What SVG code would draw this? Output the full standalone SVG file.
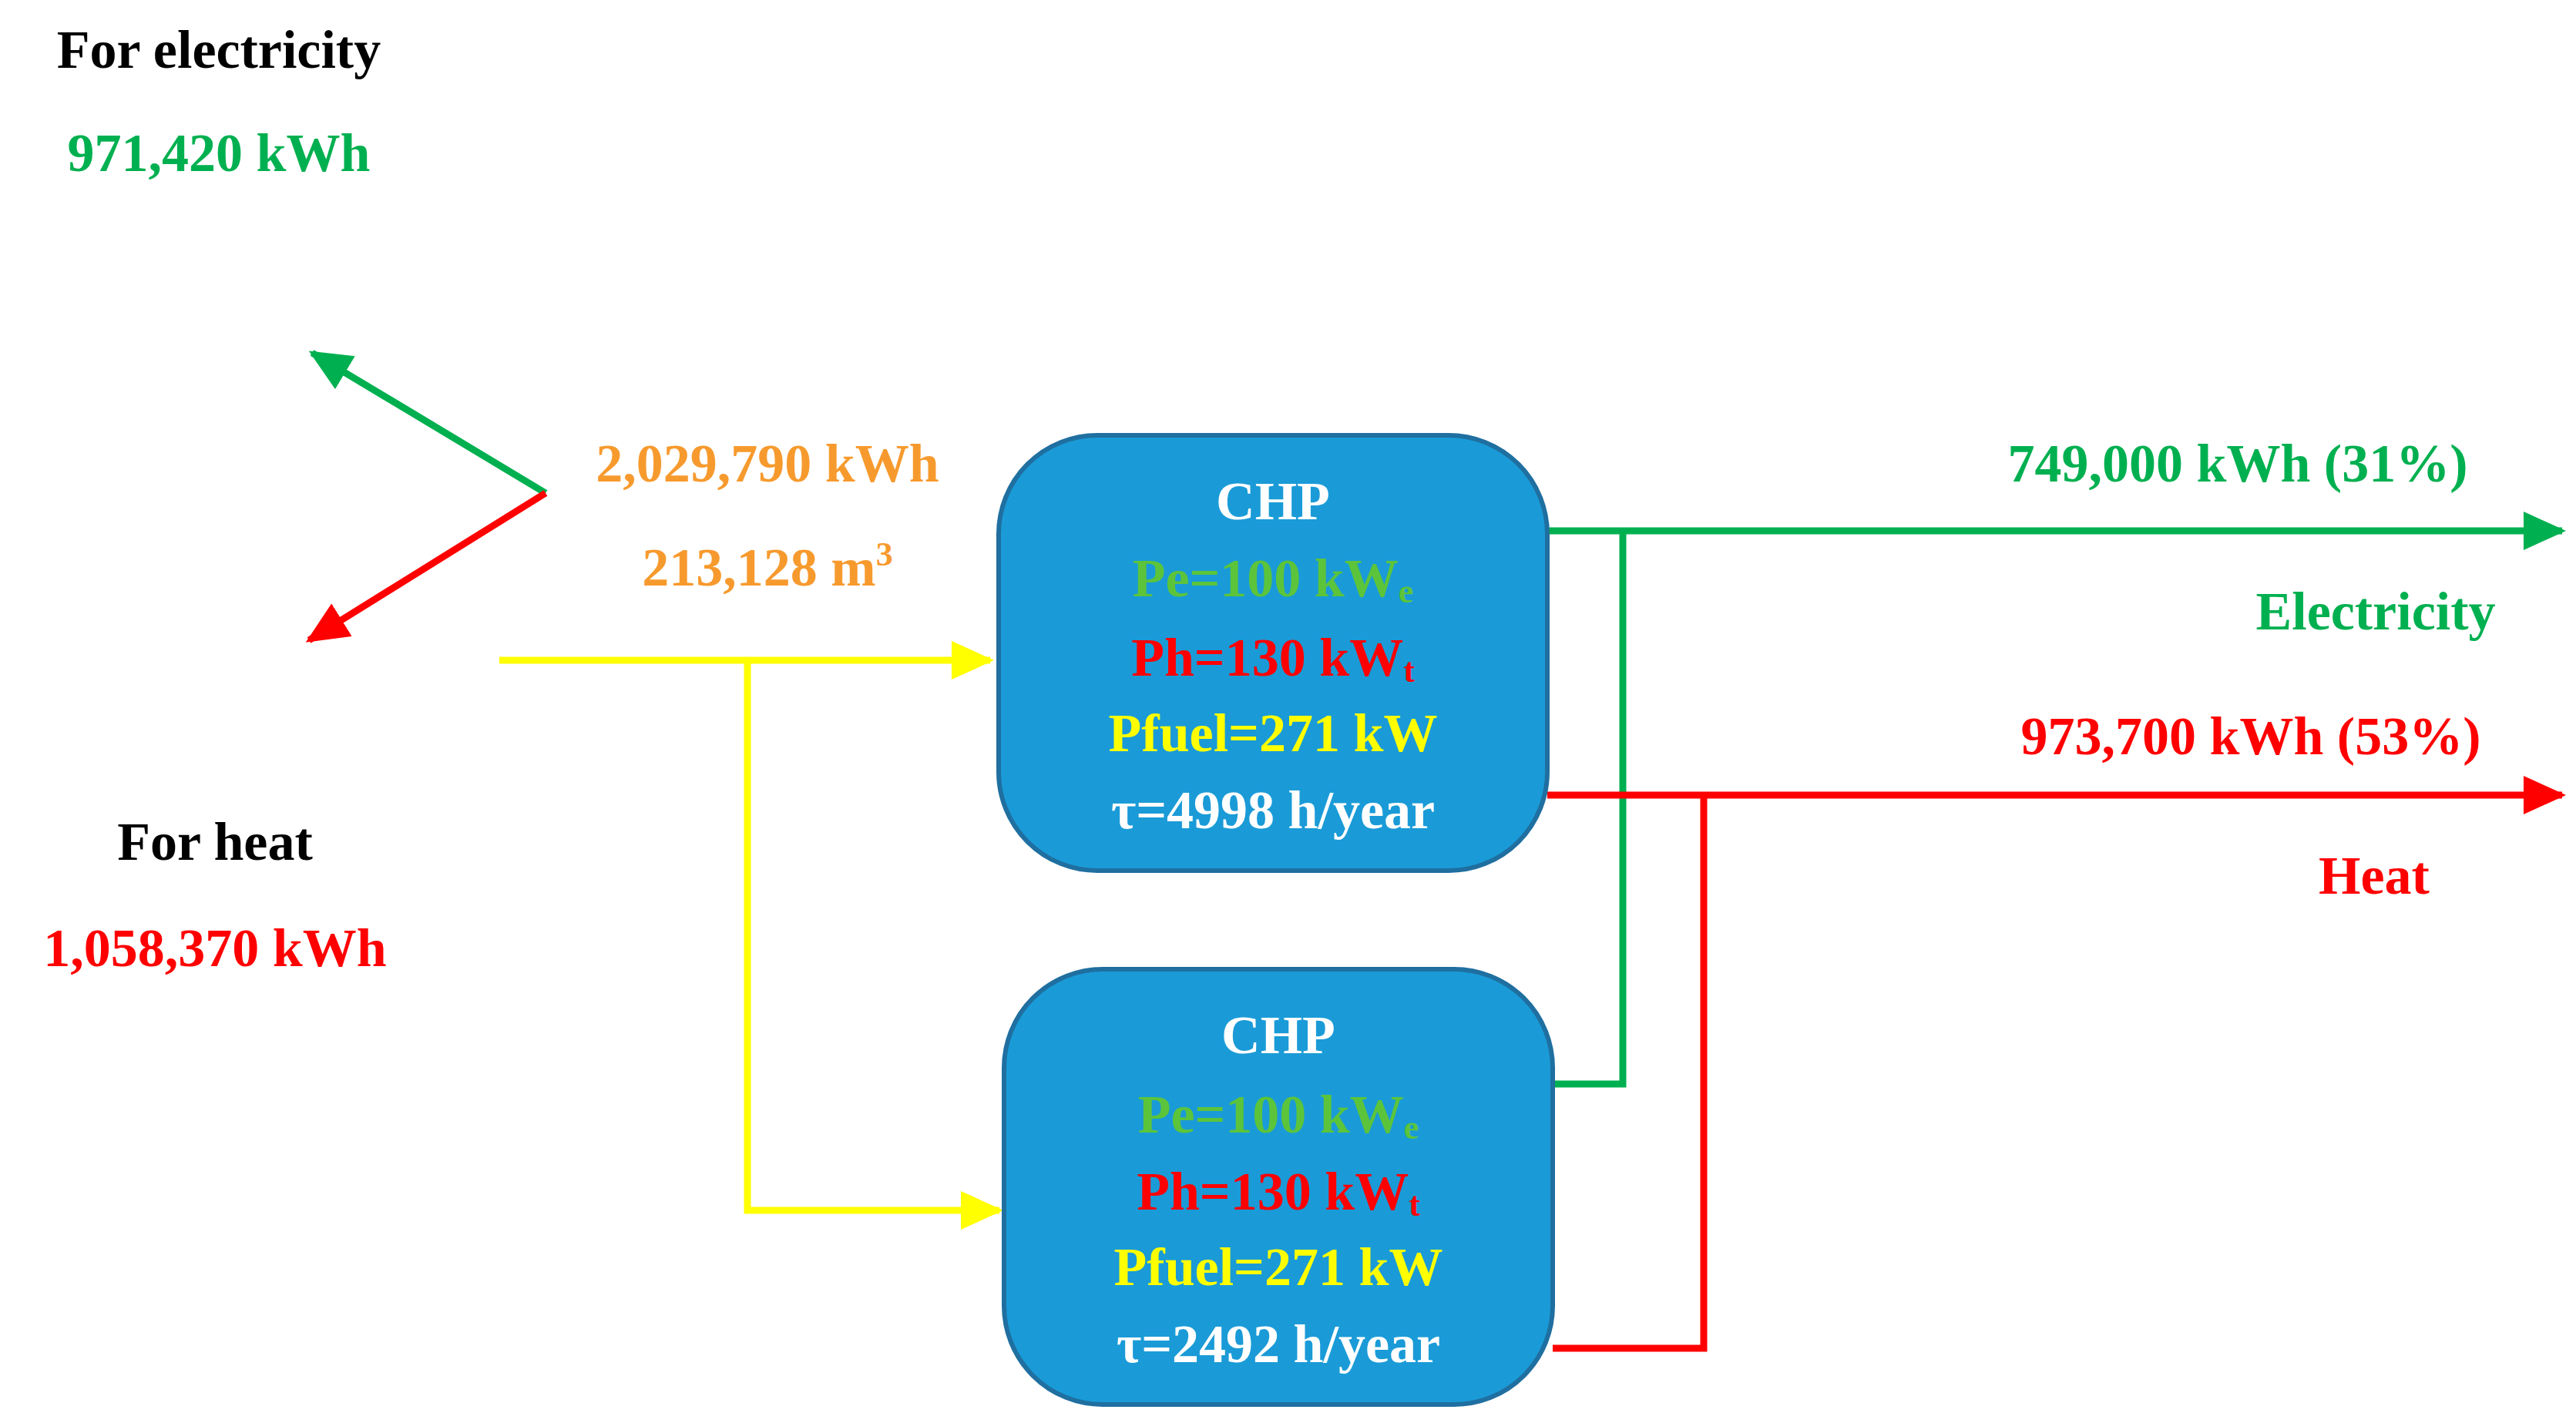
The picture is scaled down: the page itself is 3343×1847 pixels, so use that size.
<svg xmlns="http://www.w3.org/2000/svg" width="3343" height="1847" viewBox="0 0 3343 1847">
<style>
text{font-family:"Liberation Serif","DejaVu Serif",serif;font-weight:bold;font-size:70px;text-anchor:middle}
.k{fill:#000}.g{fill:#00B050}.r{fill:#FF0000}.o{fill:#F79A2E}.w{fill:#fff}.lg{fill:#5CC43A}.y{fill:#FFFF00}
.box{fill:#1A9BD7;stroke:#1F6FA0;stroke-width:6}
.ln{fill:none;stroke-width:9}
.sub{font-size:44px}
</style>
<defs>
<marker id="ag" markerUnits="userSpaceOnUse" markerWidth="55" markerHeight="50" viewBox="0 0 55 50" refX="50" refY="25" orient="auto"><path d="M0,0 L55,25 L0,50z" fill="#00B050"/></marker>
<marker id="ar" markerUnits="userSpaceOnUse" markerWidth="55" markerHeight="50" viewBox="0 0 55 50" refX="50" refY="25" orient="auto"><path d="M0,0 L55,25 L0,50z" fill="#FF0000"/></marker>
<marker id="ay" markerUnits="userSpaceOnUse" markerWidth="55" markerHeight="50" viewBox="0 0 55 50" refX="50" refY="25" orient="auto"><path d="M0,0 L55,25 L0,50z" fill="#FFFF00"/></marker>
</defs>
<rect width="3343" height="1847" fill="#fff"/>
<g id="connectors">
<line class="ln" stroke="#00B050" x1="708" y1="640" x2="405" y2="458" marker-end="url(#ag)"/>
<line class="ln" stroke="#FF0000" x1="708" y1="640" x2="401" y2="831" marker-end="url(#ar)"/>
<line class="ln" stroke="#FFFF00" x1="648" y1="857" x2="1285" y2="857" marker-end="url(#ay)"/>
<polyline class="ln" stroke="#FFFF00" points="970,857 970,1571 1297,1571" marker-end="url(#ay)"/>
<line class="ln" stroke="#00B050" x1="2008" y1="689" x2="3325" y2="689" marker-end="url(#ag)"/>
<polyline class="ln" stroke="#00B050" points="2106,689 2106,1407 2015,1407"/>
<line class="ln" stroke="#FF0000" x1="2008" y1="1032" x2="3325" y2="1032" marker-end="url(#ar)"/>
<polyline class="ln" stroke="#FF0000" points="2211,1032 2211,1750 2015,1750"/>
</g>
<g id="labels">
<text class="k" x="284" y="88">For electricity</text>
<text class="g" x="284" y="222">971,420 kWh</text>
<text class="o" x="996" y="625">2,029,790 kWh</text>
<text class="o" x="996" y="760">213,128 m<tspan class="sub" dy="-26">3</tspan></text>
<text class="k" x="279" y="1116">For heat</text>
<text class="r" x="279" y="1254">1,058,370 kWh</text>
<text class="g" x="2904" y="625">749,000 kWh (31%)</text>
<text class="g" x="3083" y="817">Electricity</text>
<text class="r" x="2921" y="979">973,700 kWh (53%)</text>
<text class="r" x="3081" y="1160">Heat</text>
</g>
<g id="chp1">
<rect class="box" x="1296" y="565" width="712" height="565" rx="128"/>
<text class="w" x="1652" y="674">CHP</text>
<text class="lg" x="1652" y="774">Pe=100 kW<tspan class="sub" dy="8">e</tspan></text>
<text class="r" x="1652" y="877">Ph=130 kW<tspan class="sub" dy="8">t</tspan></text>
<text class="y" x="1652" y="975">Pfuel=271 kW</text>
<text class="w" x="1652" y="1075">τ=4998 h/year</text>
</g>
<g id="chp2">
<rect class="box" x="1303" y="1258" width="712" height="565" rx="128"/>
<text class="w" x="1659" y="1367">CHP</text>
<text class="lg" x="1659" y="1470">Pe=100 kW<tspan class="sub" dy="8">e</tspan></text>
<text class="r" x="1659" y="1570">Ph=130 kW<tspan class="sub" dy="8">t</tspan></text>
<text class="y" x="1659" y="1668">Pfuel=271 kW</text>
<text class="w" x="1659" y="1768">τ=2492 h/year</text>
</g>
</svg>
